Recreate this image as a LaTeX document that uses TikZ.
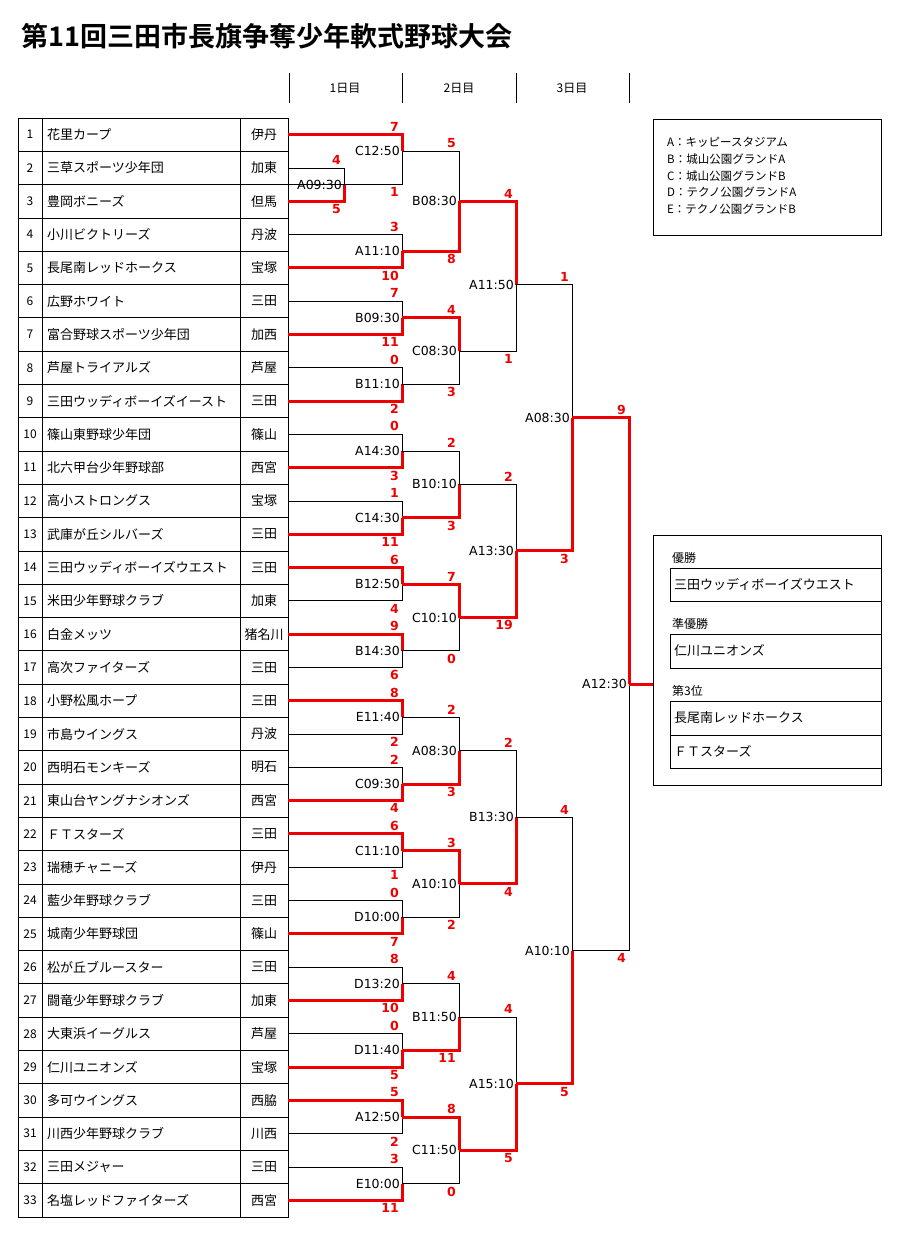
\documentclass[tikz,border=0pt]{standalone}
\usepackage{fontspec}
\setmainfont{Noto Sans CJK JP}[BoldFont={Noto Sans CJK JP Bold}]
\newfontfamily\dv{DejaVu Sans}
\definecolor{rd}{RGB}{238,0,0}
\newcommand\Yp[1]{118+33.3*(#1)}
% #1 xl #2 xv #3 ptop #4 pbot #5 pout #6 label #7 stop #8 sbot #9 winner
\newcommand\mt[9]{%
 \draw[bl] (#1,{\Yp{#3}}) -| (#2,{\Yp{#4}}) -- (#1,{\Yp{#4}});
 \ifnum#9=1
  \draw[rl] (#1,{\Yp{#3}}) -| (#2,{\Yp{#5}});
 \else
  \draw[rl] (#1,{\Yp{#4}}) -| (#2,{\Yp{#5}});
 \fi
 \node[tm,anchor=east] (m#6) at ({#2-1},{\Yp{#5}}) {#6};
 \node[sc,anchor=south east] at ({#2-3},{\Yp{#3}-3}) {#7};
 \node[sc,anchor=north east] at ({#2-3},{\Yp{#4}+3}) {#8};
}
\begin{document}
\begin{tikzpicture}[x=1pt,y=-1pt,
 bl/.style={black,line width=0.8pt},
 rl/.style={rd,line width=3pt,line join=miter},
 tm/.style={font=\dv\fontsize{12.5}{14}\selectfont,inner sep=1pt},
 sc/.style={font=\dv\bfseries\fontsize{12.5}{14}\selectfont,text=rd,inner sep=0pt},
 tx/.style={font=\fontsize{13}{15}\selectfont,inner sep=0pt},
 sm/.style={font=\fontsize{12}{14}\selectfont,inner sep=0pt},
 lg/.style={font=\fontsize{11.5}{13}\selectfont,inner sep=0pt,anchor=west}]
\useasboundingbox (0,0) rectangle (907,1234);
\node[anchor=west,font=\bfseries\fontsize{27}{30}\selectfont,inner sep=0pt] (title) at (21,36) {第11回三田市長旗争奪少年軟式野球大会};
% header
\foreach \x in {289,402,516,629} \draw[bl] (\x,73) -- (\x,103);
\node[sm] (d1) at (345,88) {1日目};
\node[sm] (d2) at (459,88) {2日目};
\node[sm] (d3) at (572,88) {3日目};
% table
\draw[bl] (18,118) rectangle (288,{\Yp{33}});
\foreach \x in {42,240} \draw[bl] (\x,118) -- (\x,{\Yp{33}});
\foreach \k in {1,...,32} \draw[bl] (18,{\Yp{\k}}) -- (288,{\Yp{\k}});
\foreach [count=\i] \n/\c in {花里カープ/伊丹,三草スポーツ少年団/加東,豊岡ボニーズ/但馬,小川ビクトリーズ/丹波,長尾南レッドホークス/宝塚,広野ホワイト/三田,富合野球スポーツ少年団/加西,芦屋トライアルズ/芦屋,三田ウッディボーイズイースト/三田,篠山東野球少年団/篠山,北六甲台少年野球部/西宮,高小ストロングス/宝塚,武庫が丘シルバーズ/三田,三田ウッディボーイズウエスト/三田,米田少年野球クラブ/加東,白金メッツ/猪名川,高次ファイターズ/三田,小野松風ホープ/三田,市島ウイングス/丹波,西明石モンキーズ/明石,東山台ヤングナシオンズ/西宮,ＦＴスターズ/三田,瑞穂チャニーズ/伊丹,藍少年野球クラブ/三田,城南少年野球団/篠山,松が丘ブルースター/三田,闘竜少年野球クラブ/加東,大東浜イーグルス/芦屋,仁川ユニオンズ/宝塚,多可ウイングス/西脇,川西少年野球クラブ/川西,三田メジャー/三田,名塩レッドファイターズ/西宮}{
 \node[sm] (n\i) at (30,{\Yp{\i-0.5}}) {\i};
 \node[tx,anchor=west] (t\i) at (47,{\Yp{\i-0.5}}) {\n};
 \node[tx] (c\i) at (264,{\Yp{\i-0.5}}) {\c};
}
% round 1
\mt{288}{344}{1.5}{2.5}{2}{A09:30}{4}{5}{2}
\mt{288}{402}{0.5}{2}{1}{C12:50}{7}{1}{1}
\mt{288}{402}{3.5}{4.5}{4}{A11:10}{3}{10}{2}
\mt{288}{402}{5.5}{6.5}{6}{B09:30}{7}{11}{2}
\mt{288}{402}{7.5}{8.5}{8}{B11:10}{0}{2}{2}
\mt{288}{402}{9.5}{10.5}{10}{A14:30}{0}{3}{2}
\mt{288}{402}{11.5}{12.5}{12}{C14:30}{1}{11}{2}
\mt{288}{402}{13.5}{14.5}{14}{B12:50}{6}{4}{1}
\mt{288}{402}{15.5}{16.5}{16}{B14:30}{9}{6}{1}
\mt{288}{402}{17.5}{18.5}{18}{E11:40}{8}{2}{1}
\mt{288}{402}{19.5}{20.5}{20}{C09:30}{2}{4}{2}
\mt{288}{402}{21.5}{22.5}{22}{C11:10}{6}{1}{1}
\mt{288}{402}{23.5}{24.5}{24}{D10:00}{0}{7}{2}
\mt{288}{402}{25.5}{26.5}{26}{D13:20}{8}{10}{2}
\mt{288}{402}{27.5}{28.5}{28}{D11:40}{0}{5}{2}
\mt{288}{402}{29.5}{30.5}{30}{A12:50}{5}{2}{1}
\mt{288}{402}{31.5}{32.5}{32}{E10:00}{3}{11}{2}
% round 2
\mt{402}{459}{1}{4}{2.5}{B08:30}{5}{8}{2}
\mt{402}{459}{6}{8}{7}{C08:30}{4}{3}{1}
\mt{402}{459}{10}{12}{11}{B10:10}{2}{3}{2}
\mt{402}{459}{14}{16}{15}{C10:10}{7}{0}{1}
\mt{402}{459}{18}{20}{19}{A08:30}{2}{3}{2}
\mt{402}{459}{22}{24}{23}{A10:10}{3}{2}{1}
\mt{402}{459}{26}{28}{27}{B11:50}{4}{11}{2}
\mt{402}{459}{30}{32}{31}{C11:50}{8}{0}{1}
% round 3
\mt{459}{516}{2.5}{7}{5}{A11:50}{4}{1}{1}
\mt{459}{516}{11}{15}{13}{A13:30}{2}{19}{2}
\mt{459}{516}{19}{23}{21}{B13:30}{2}{4}{2}
\mt{459}{516}{27}{31}{29}{A15:10}{4}{5}{2}
% round 4
\mt{516}{572}{5}{13}{9}{A08:30}{1}{3}{2}
\mt{516}{572}{21}{29}{25}{A10:10}{4}{5}{2}
% final
\mt{572}{629}{9}{25}{17}{A12:30}{9}{4}{1}
% legend
\draw[bl] (653,119) rectangle (881,235);
\node[lg] (l1) at (667,142) {A：キッピースタジアム};
\node[lg] (l2) at (667,159) {B：城山公園グランドA};
\node[lg] (l3) at (667,176) {C：城山公園グランドB};
\node[lg] (l4) at (667,192) {D：テクノ公園グランドA};
\node[lg] (l5) at (667,209) {E：テクノ公園グランドB};
% results
\draw[bl] (653,535) rectangle (881,785);
\draw[rl] (629,{\Yp{17}}) -- (653,{\Yp{17}});
\node[sm,anchor=west] (w1) at (672,558) {優勝};
\draw[bl] (670,568) rectangle (881,601);
\node[tx,anchor=west] (r1) at (674,584.5) {三田ウッディボーイズウエスト};
\node[sm,anchor=west] (w2) at (672,624) {準優勝};
\draw[bl] (670,634) rectangle (881,668);
\node[tx,anchor=west] (r2) at (674,651) {仁川ユニオンズ};
\node[sm,anchor=west] (w3) at (672,691) {第3位};
\draw[bl] (670,701) rectangle (881,768);
\draw[bl] (670,735) -- (881,735);
\node[tx,anchor=west] (r3) at (674,718) {長尾南レッドホークス};
\node[tx,anchor=west] (r4) at (674,751.5) {ＦＴスターズ};
\end{tikzpicture}
\end{document}
